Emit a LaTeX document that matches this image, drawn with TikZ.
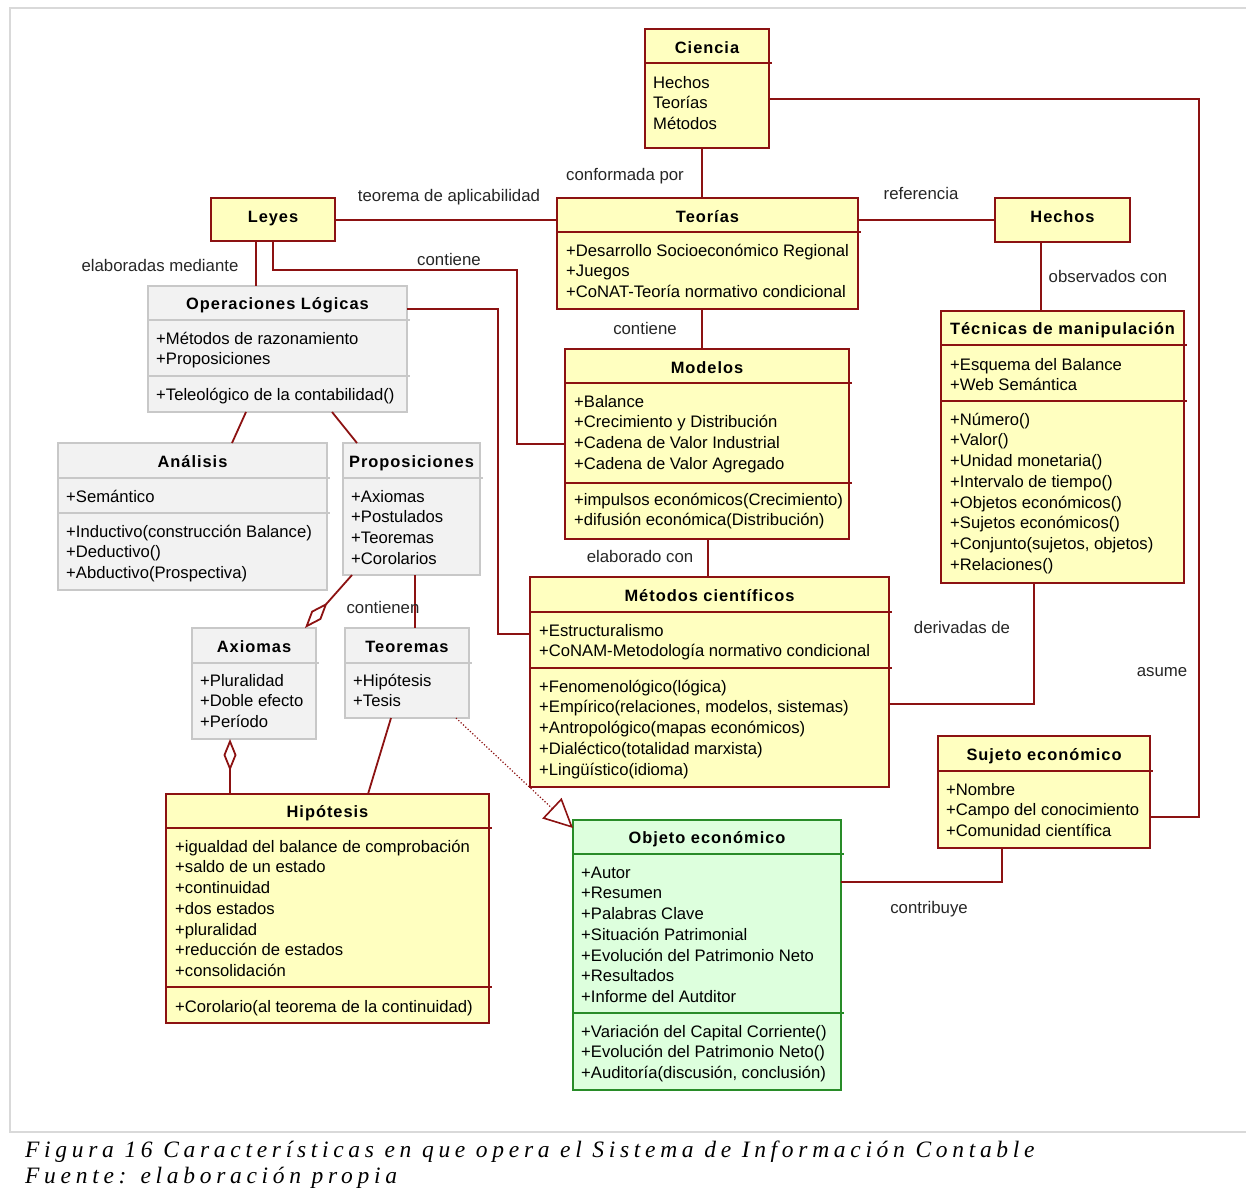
\documentclass[tikz,border=0pt]{standalone}
\usepackage{fontspec}
\setmainfont{Liberation Sans}
\newfontfamily\ttlfont{Liberation Sans}[LetterSpace=6]
\newfontfamily\capfont{Liberation Serif}[LetterSpace=20]
\usetikzlibrary{arrows.meta,calc}
\definecolor{lred}{RGB}{140,18,18}
\definecolor{yfill}{RGB}{255,255,192}
\definecolor{gfill}{RGB}{242,242,242}
\definecolor{gline}{RGB}{200,200,200}
\definecolor{grfill}{RGB}{221,255,221}
\definecolor{grline}{RGB}{40,140,40}
\definecolor{framegray}{RGB}{217,217,217}
\tikzset{
  ybox/.style={draw=lred, fill=yfill, line width=1.6pt, inner sep=0pt, outer sep=0pt},
  gbox/.style={draw=gline, fill=gfill, line width=1.6pt, inner sep=0pt, outer sep=0pt},
  grbox/.style={draw=grline, fill=grfill, line width=1.6pt, inner sep=0pt, outer sep=0pt},
  ysep/.style={draw=lred, line width=1.4pt},
  gsep/.style={draw=gline, line width=1.4pt},
  grsep/.style={draw=grline, line width=1.4pt},
  ttl/.style={font=\ttlfont\bfseries\fontsize{16.4}{20}\selectfont, inner sep=0pt, anchor=base},
  itm/.style={font=\fontsize{16.65}{20.7}\selectfont, inner sep=0pt, anchor=north west, align=left},
  lbl/.style={font=\fontsize{16.8}{19}\selectfont, inner sep=0pt, anchor=base, text=black!85},
  conn/.style={draw=lred, line width=1.8pt},
}
\newcommand\cbox[6]{\node[#2, anchor=north west, minimum width={(#5)-(#3)}, minimum height={(#6)-(#4)}] (#1) at (#3,#4) {};}
\newcommand\hsep[4]{\draw[#1] (#2,#4) -- ({#3+3},#4);}
\newcommand\sr{\rule{0pt}{15pt}}
\begin{document}
\begin{tikzpicture}[x=1pt,y=-1pt]
\useasboundingbox (0,0) rectangle (1246,1187);
\clip (0,0) rectangle (1246,1187);
\draw[framegray, line width=2pt] (10,8) rectangle (1270,1132);

% ---------- boxes ----------
\cbox{ciencia}{ybox}{645}{29}{769}{148}
\hsep{ysep}{645}{769}{63}
\node[ttl] (ciencia-t) at (707,53) {Ciencia};
\node[itm] (ciencia-a) at (653,73) {\sr Hechos\\Teorías\\Métodos};

\cbox{teorias}{ybox}{557}{198}{858}{309}
\hsep{ysep}{557}{858}{232}
\node[ttl] (teorias-t) at (707.5,222) {Teorías};
\node[itm] (teorias-a) at (566,241) {\sr +Desarrollo Socioeconómico Regional\\+Juegos\\+CoNAT-Teoría normativo condicional};

\cbox{leyes}{ybox}{211}{198}{335}{241}
\node[ttl] (leyes-t) at (273,222) {Leyes};

\cbox{hechos}{ybox}{995}{198}{1130}{242}
\node[ttl] (hechos-t) at (1062.5,222) {Hechos};

\cbox{oplog}{gbox}{148}{286}{407}{412}
\hsep{gsep}{148}{407}{320}
\hsep{gsep}{148}{407}{376}
\node[ttl] (oplog-t) at (277.5,309) {Operaciones Lógicas};
\node[itm] (oplog-a) at (156,329) {\sr +Métodos de razonamiento\\+Proposiciones};
\node[itm] (oplog-o) at (156,385) {\sr +Teleológico de la contabilidad()};

\cbox{analisis}{gbox}{58}{443}{327}{590}
\hsep{gsep}{58}{327}{478}
\hsep{gsep}{58}{327}{513}
\node[ttl] (analisis-t) at (192.5,467) {Análisis};
\node[itm] (analisis-a) at (66,487) {\sr +Semántico};
\node[itm] (analisis-o) at (66,522) {\sr +Inductivo(construcción Balance)\\+Deductivo()\\+Abductivo(Prospectiva)};

\cbox{prop}{gbox}{343}{443}{480}{575}
\hsep{gsep}{343}{480}{478}
\node[ttl] (prop-t) at (411.5,467) {Proposiciones};
\node[itm] (prop-a) at (351,487) {\sr +Axiomas\\+Postulados\\+Teoremas\\+Corolarios};

\cbox{modelos}{ybox}{565}{349}{849}{539}
\hsep{ysep}{565}{849}{383}
\hsep{ysep}{565}{849}{483}
\node[ttl] (modelos-t) at (707,373) {Modelos};
\node[itm] (modelos-a) at (574,392) {\sr +Balance\\+Crecimiento y Distribución\\+Cadena de Valor Industrial\\+Cadena de Valor Agregado};
\node[itm] (modelos-o) at (574,490) {\sr +impulsos económicos(Crecimiento)\\+difusión económica(Distribución)};

\cbox{tecnicas}{ybox}{941}{311}{1184}{583}
\hsep{ysep}{941}{1184}{345}
\hsep{ysep}{941}{1184}{401}
\node[ttl] (tecnicas-t) at (1062.5,334) {Técnicas de manipulación};
\node[itm] (tecnicas-a) at (950,355) {\sr +Esquema del Balance\\+Web Semántica};
\node[itm] (tecnicas-o) at (950,410) {\sr +Número()\\+Valor()\\+Unidad monetaria()\\+Intervalo de tiempo()\\+Objetos económicos()\\+Sujetos económicos()\\+Conjunto(sujetos, objetos)\\+Relaciones()};

\cbox{metodos}{ybox}{530}{577}{889}{787}
\hsep{ysep}{530}{889}{612}
\hsep{ysep}{530}{889}{668}
\node[ttl] (metodos-t) at (709.5,601) {Métodos científicos};
\node[itm] (metodos-a) at (539,621) {\sr +Estructuralismo\\+CoNAM-Metodología normativo condicional};
\node[itm] (metodos-o) at (539,677) {\sr +Fenomenológico(lógica)\\+Empírico(relaciones, modelos, sistemas)\\+Antropológico(mapas económicos)\\+Dialéctico(totalidad marxista)\\+Lingüístico(idioma)};

\cbox{axiomas}{gbox}{192}{628}{316}{739}
\hsep{gsep}{192}{316}{663}
\node[ttl] (axiomas-t) at (254,652) {Axiomas};
\node[itm] (axiomas-a) at (200,671) {\sr +Pluralidad\\+Doble efecto\\+Período};

\cbox{teoremas}{gbox}{345}{628}{469}{718}
\hsep{gsep}{345}{469}{663}
\node[ttl] (teoremas-t) at (407,652) {Teoremas};
\node[itm] (teoremas-a) at (353,671) {\sr +Hipótesis\\+Tesis};

\cbox{hipotesis}{ybox}{166}{794}{489}{1023}
\hsep{ysep}{166}{489}{828}
\hsep{ysep}{166}{489}{987}
\node[ttl] (hipotesis-t) at (327.5,817) {Hipótesis};
\node[itm] (hipotesis-a) at (175,837) {\sr +igualdad del balance de comprobación\\+saldo de un estado\\+continuidad\\+dos estados\\+pluralidad\\+reducción de estados\\+consolidación};
\node[itm] (hipotesis-o) at (175,997) {\sr +Corolario(al teorema de la continuidad)};

\cbox{objeto}{grbox}{573}{820}{841}{1090}
\hsep{grsep}{573}{841}{854}
\hsep{grsep}{573}{841}{1013}
\node[ttl] (objeto-t) at (707,843) {Objeto económico};
\node[itm] (objeto-a) at (581,863) {\sr +Autor\\+Resumen\\+Palabras Clave\\+Situación Patrimonial\\+Evolución del Patrimonio Neto\\+Resultados\\+Informe del Autditor};
\node[itm] (objeto-o) at (581,1022) {\sr +Variación del Capital Corriente()\\+Evolución del Patrimonio Neto()\\+Auditoría(discusión, conclusión)};

\cbox{sujeto}{ybox}{938}{736}{1150}{848}
\hsep{ysep}{938}{1150}{771}
\node[ttl] (sujeto-t) at (1044,760) {Sujeto económico};
\node[itm] (sujeto-a) at (946,780) {\sr +Nombre\\+Campo del conocimiento\\+Comunidad científica};

% ---------- connectors ----------
\coordinate (rail) at (1199,500);
\coordinate (c6) at (517,270);
\coordinate (c9) at (498,400);
\draw[conn] ([xshift=-5]ciencia.south) -- ([xshift=-5]ciencia.south |- teorias.north);
\draw[conn] ([yshift=-10.5]ciencia.east) -| (rail) |- ([yshift=-25]sujeto.east);
\draw[conn] ([yshift=-0.5]leyes.east) -- ([yshift=-0.5]leyes.east -| teorias.west);
\draw[conn] (hechos.west -| teorias.east) -- (hechos.west);
\draw[conn] ([xshift=-17]leyes.south) -- ([xshift=-17]leyes.south |- oplog.north);
\draw[conn] (leyes.south) |- (c6) |- (modelos.west);
\draw[conn] ([xshift=-5.5]teorias.south) -- ([xshift=-5.5]teorias.south |- modelos.north);
\draw[conn] ([xshift=-21.5]hechos.south) -- ([xshift=-21.5]hechos.south |- tecnicas.north);
\draw[conn] ([yshift=40]oplog.east) -| (c9) |- ([yshift=48]metodos.west);
\draw[conn] ([xshift=-31.5]oplog.south) -- ([xshift=39.5]analisis.north);
\draw[conn] ([xshift=54.5]oplog.south) -- ([xshift=-54.5]prop.north);
\draw[conn] ([xshift=1]modelos.south) -- ([xshift=1]modelos.south |- metodos.north);
\draw[conn] ([xshift=-28.5]tecnicas.south) |- ([yshift=-22]metodos.east);
\draw[conn, {Diamond[open, length=34pt, width=13pt]}-] ([xshift=-11]axiomas.north east) -- ([xshift=9]prop.south west);
\draw[conn] ([xshift=3.5]prop.south) -- ([xshift=3.5]prop.south |- teoremas.north);
\draw[conn, {Diamond[open, length=32pt, width=13pt]}-] ([xshift=-24]axiomas.south) -- ([xshift=-24]axiomas.south |- hipotesis.north);
\draw[conn] ([xshift=-16]teoremas.south) -- ([xshift=40.5]hipotesis.north);
\draw[draw=lred, line width=1.2pt, dotted, -{Triangle[open, length=29pt, width=28pt, line width=1.6pt]}] ([xshift=-13]teoremas.south east) -- ([yshift=-8]objeto.north west);
\draw[conn] ([xshift=-42]sujeto.south) |- ([yshift=73]objeto.east);

% ---------- labels ----------
\node[lbl] (l1) at (625,180) {conformada por};
\node[lbl] (l2) at (449,201) {teorema de aplicabilidad};
\node[lbl] (l3) at (921,199) {referencia};
\node[lbl] (l4) at (160,271) {elaboradas mediante};
\node[lbl] (l5) at (449,265) {contiene};
\node[lbl] (l6) at (645,334) {contiene};
\node[lbl] (l7) at (1108,282) {observados con};
\node[lbl] (l8) at (640,562) {elaborado con};
\node[lbl] (l9) at (962,633) {derivadas de};
\node[lbl] (l10) at (1162,676) {asume};
\node[lbl] (l11) at (383,613) {contienen};
\node[lbl] (l12) at (929,913) {contribuye};

% ---------- caption ----------
\node[font=\capfont\itshape\fontsize{23.5}{28}\selectfont, inner sep=0pt, anchor=base west] (cap1) at (25,1157) {Figura 16 Características en que opera el Sistema de Información Contable};
\node[font=\capfont\itshape\fontsize{23.5}{28}\selectfont, inner sep=0pt, anchor=base west] (cap2) at (25,1183) {Fuente: elaboración propia};
\end{tikzpicture}
\end{document}
